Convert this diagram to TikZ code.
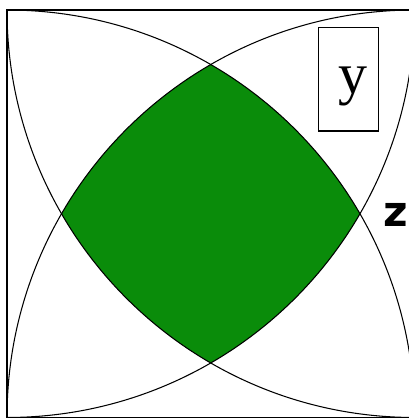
\documentclass[tikz,border=0pt]{standalone}
\usepackage{fontspec}
\newfontfamily\serifY{Liberation Serif}
\newfontfamily\sansZ{DejaVu Sans}
\definecolor{leafgreen}{RGB}{10,140,10}
\tikzset{
  arcline/.style={line width=0.6pt, black},
  frameline/.style={line width=0.8pt, black},
  labelbox/.style={draw, line width=0.8pt, minimum width=1.2cm, minimum height=2.08cm, inner sep=0pt},
}
\begin{document}
\begin{tikzpicture}[x=0.02cm,y=-0.02cm]
\useasboundingbox (0,0) rectangle (409,420);
\fill[white] (0,0) rectangle (409,420);
\coordinate (tl) at (7,10);
\coordinate (tr) at (414.5,10);
\coordinate (bl) at (7,417.5);
\coordinate (br) at (414.5,417.5);
% green region: intersection of the four discs
\begin{scope}
  \clip (tl) circle[radius=407.5];
  \clip (tr) circle[radius=407.5];
  \clip (bl) circle[radius=407.5];
  \fill[leafgreen] (br) circle[radius=407.5];
\end{scope}
% quarter arcs
\begin{scope}
  \clip (tl) rectangle (br);
  \draw[arcline] (tl) circle[radius=407.5];
  \draw[arcline] (tr) circle[radius=407.5];
  \draw[arcline] (bl) circle[radius=407.5];
  \draw[arcline] (br) circle[radius=407.5];
\end{scope}
\draw[frameline] (tl) rectangle (br);
% labels
\node[labelbox, fill=white] (ybox) at (348.3,79.2) {};
\node[anchor=base, inner sep=0pt, font=\serifY\fontsize{33pt}{36pt}\selectfont] (ylab) at (352.5,93) {y};
\node[anchor=base, inner sep=0pt, font=\sansZ\bfseries\fontsize{24pt}{28pt}\selectfont] (zlab) at (395.5,226) {z};
\end{tikzpicture}
\end{document}
